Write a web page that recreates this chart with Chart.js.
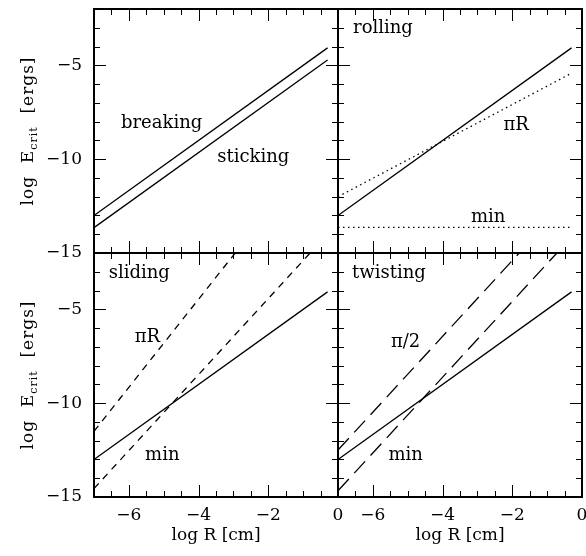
<!DOCTYPE html>
<html>
<head>
<meta charset="utf-8">
<script src="https://cdn.jsdelivr.net/npm/chart.js@4.4.1/dist/chart.umd.min.js"></script>
<style>
  body { margin: 0; background: #fff; }
  #wrap { position: relative; width: 586px; height: 556px; }
  #wrap canvas { position: absolute; left: 0; top: 0; }
</style>
</head>
<body>
<div id="wrap">
  <canvas id="pBreak" width="586" height="556"></canvas>
  <canvas id="pRoll" width="586" height="556"></canvas>
  <canvas id="pSlide" width="586" height="556"></canvas>
  <canvas id="pTwist" width="586" height="556"></canvas>
</div>
<script>
// axis ranges and labelled ticks (log R [cm], log E_crit [ergs])
const xTickLabels = [-6, -4, -2, 0];
const yTickLabels = [-15, -10, -5];

// lines are straight in log-log, so each one is given by its two ends
const lineR = [-7, -0.3];
const breakingE = [-13.0, -4.07];
const stickingE = [-13.65, -4.72];

const rollingE = [-13.0, -4.07];
const rollingPiRE = [-12.0, -5.42];
const rollingMinE = [-13.63, -13.63];

const slidingE = [-13.0, -4.07];
const slidingPiRR = [-7, -2.95];
const slidingPiRE = [-11.5, -2];
const slidingMinR = [-7, -0.8];
const slidingMinE = [-14.55, -2];

const twistingE = [-13.0, -4.07];
const twistHalfPiR = [-7, -1.8];
const twistHalfPiE = [-12.5, -2];
const twistMinR = [-7, -0.72];
const twistMinE = [-14.67, -2];

const FONT = '"DejaVu Serif", serif';
const W = 586, H = 556;

function pts(xs, ys) {
  return xs.map((x, i) => ({ x: x, y: ys[i] }));
}

function minusFmt(v) {
  return v < 0 ? '\u2212' + Math.abs(v) : String(v);
}

// frame + inward ticks on all four sides, like the original plot
const frameTicks = {
  id: 'frameTicks',
  afterDraw(chart) {
    const { ctx, chartArea: a, scales } = chart;
    const x = scales.x, y = scales.y;
    ctx.save();
    ctx.strokeStyle = '#000';
    ctx.lineWidth = 1;
    ctx.beginPath();
    for (let v = x.min + 0.5; v < x.max; v += 0.5) {
      const len = v % 2 === 0 ? 12 : 6;
      const px = Math.round(x.getPixelForValue(v)) + 0.5;
      ctx.moveTo(px, a.bottom); ctx.lineTo(px, a.bottom - len);
      ctx.moveTo(px, a.top); ctx.lineTo(px, a.top + len);
    }
    for (let v = y.min + 1; v < y.max; v += 1) {
      const len = v % 5 === 0 ? 12 : 6;
      const py = Math.round(y.getPixelForValue(v)) + 0.5;
      ctx.moveTo(a.left, py); ctx.lineTo(a.left + len, py);
      ctx.moveTo(a.right, py); ctx.lineTo(a.right - len, py);
    }
    ctx.stroke();
    ctx.lineWidth = 2;
    ctx.strokeRect(a.left, a.top, a.right - a.left, a.bottom - a.top);
    ctx.restore();
  }
};

// panel names and curve labels, placed in data units
const notesPlugin = {
  id: 'notes',
  afterDraw(chart, args, opts) {
    const { ctx, scales } = chart;
    ctx.save();
    ctx.fillStyle = '#000';
    ctx.font = '18px ' + FONT;
    ctx.textAlign = 'center';
    ctx.textBaseline = 'alphabetic';
    (opts.items || []).forEach(n => {
      ctx.fillText(n.text, scales.x.getPixelForValue(n.x), scales.y.getPixelForValue(n.y));
    });
    ctx.restore();
  }
};

// rotated y title with the "crit" subscript
const yTitlePlugin = {
  id: 'yTitle',
  afterDraw(chart, args, opts) {
    if (!opts.show) return;
    const { ctx, chartArea: a } = chart;
    const main = '17px ' + FONT, sub = '11px ' + FONT;
    const parts = [
      { t: 'log  E', f: main, dy: 0 },
      { t: 'crit', f: sub, dy: 4 },
      { t: '  [ergs]', f: main, dy: 0 }
    ];
    ctx.save();
    ctx.fillStyle = '#000';
    if ('letterSpacing' in ctx) ctx.letterSpacing = '1px';
    let total = 0;
    parts.forEach(p => { ctx.font = p.f; p.w = ctx.measureText(p.t).width; total += p.w; });
    ctx.translate(a.left - 61, (a.top + a.bottom) / 2);
    ctx.rotate(-Math.PI / 2);
    ctx.textBaseline = 'alphabetic';
    ctx.textAlign = 'left';
    let cx = -total / 2;
    parts.forEach(p => {
      ctx.font = p.f;
      ctx.fillText(p.t, cx, p.dy);
      cx += p.w;
    });
    ctx.restore();
  }
};

function makePanel(id, box, sets, notes, showX, showY) {
  const datasets = sets.map(s => ({
    data: pts(s.r, s.e),
    showLine: true,
    borderColor: '#000',
    borderWidth: 1.3,
    borderDash: s.dash || [],
    pointRadius: 0,
    fill: false
  }));
  const xScale = {
    type: 'linear', min: -7, max: 0, display: showX, position: 'bottom',
    grid: { display: false, drawTicks: false },
    border: { display: false },
    ticks: { padding: 8, color: '#000', font: { family: FONT, size: 17 }, callback: minusFmt, maxRotation: 0, autoSkip: false },
    title: { display: true, text: 'log R [cm]', color: '#000', font: { family: FONT, size: 17 }, padding: { top: 0, bottom: 10 } },
    afterBuildTicks: s => { s.ticks = xTickLabels.map(v => ({ value: v })); }
  };
  if (showX) xScale.afterFit = s => { s.height = H - box.b; s.paddingLeft = 0; s.paddingRight = 0; };
  const yScale = {
    type: 'linear', min: -15, max: -2, display: showY, position: 'left',
    grid: { display: false, drawTicks: false },
    border: { display: false },
    ticks: { padding: 12, color: '#000', font: { family: FONT, size: 17 }, callback: minusFmt, autoSkip: false },
    afterBuildTicks: s => { s.ticks = yTickLabels.map(v => ({ value: v })); }
  };
  if (showY) yScale.afterFit = s => { s.width = box.l; s.paddingTop = 0; s.paddingBottom = 0; };

  return new Chart(document.getElementById(id), {
    type: 'scatter',
    data: { datasets: datasets },
    options: {
      responsive: false,
      animation: false,
      layout: {
        padding: {
          left: showY ? 0 : box.l,
          top: box.t,
          right: W - box.r,
          bottom: showX ? 0 : H - box.b
        }
      },
      scales: { x: xScale, y: yScale },
      plugins: {
        legend: { display: false },
        tooltip: { enabled: false },
        notes: { items: notes },
        yTitle: { show: showY }
      }
    },
    plugins: [frameTicks, notesPlugin, yTitlePlugin]
  });
}

const dotted = [1.5, 3.5];
const dashShort = [7, 6];
const dashLong = [16, 8];

makePanel('pBreak', { l: 94, t: 9, r: 338, b: 253 }, [
  { r: lineR, e: breakingE },
  { r: lineR, e: stickingE }
], [
  { text: 'breaking', x: -5.06, y: -8.32 },
  { text: 'sticking', x: -2.43, y: -10.17 }
], false, true);

makePanel('pRoll', { l: 338, t: 9, r: 582, b: 253 }, [
  { r: lineR, e: rollingE },
  { r: lineR, e: rollingPiRE, dash: dotted },
  { r: lineR, e: rollingMinE, dash: dotted }
], [
  { text: 'rolling', x: -5.71, y: -3.29 },
  { text: '\u03c0R', x: -1.89, y: -8.45 },
  { text: 'min', x: -2.69, y: -13.33 }
], false, false);

makePanel('pSlide', { l: 94, t: 253, r: 338, b: 497 }, [
  { r: lineR, e: slidingE },
  { r: slidingPiRR, e: slidingPiRE, dash: dashShort },
  { r: slidingMinR, e: slidingMinE, dash: dashShort }
], [
  { text: 'sliding', x: -5.7, y: -3.33 },
  { text: '\u03c0R', x: -5.47, y: -6.73 },
  { text: 'min', x: -5.04, y: -13.03 }
], true, true);

makePanel('pTwist', { l: 338, t: 253, r: 582, b: 497 }, [
  { r: lineR, e: twistingE },
  { r: twistHalfPiR, e: twistHalfPiE, dash: dashLong },
  { r: twistMinR, e: twistMinE, dash: dashLong }
], [
  { text: 'twisting', x: -5.54, y: -3.33 },
  { text: '\u03c0/2', x: -5.06, y: -7.01 },
  { text: 'min', x: -5.06, y: -13.03 }
], true, false);
</script>
</body>
</html>
